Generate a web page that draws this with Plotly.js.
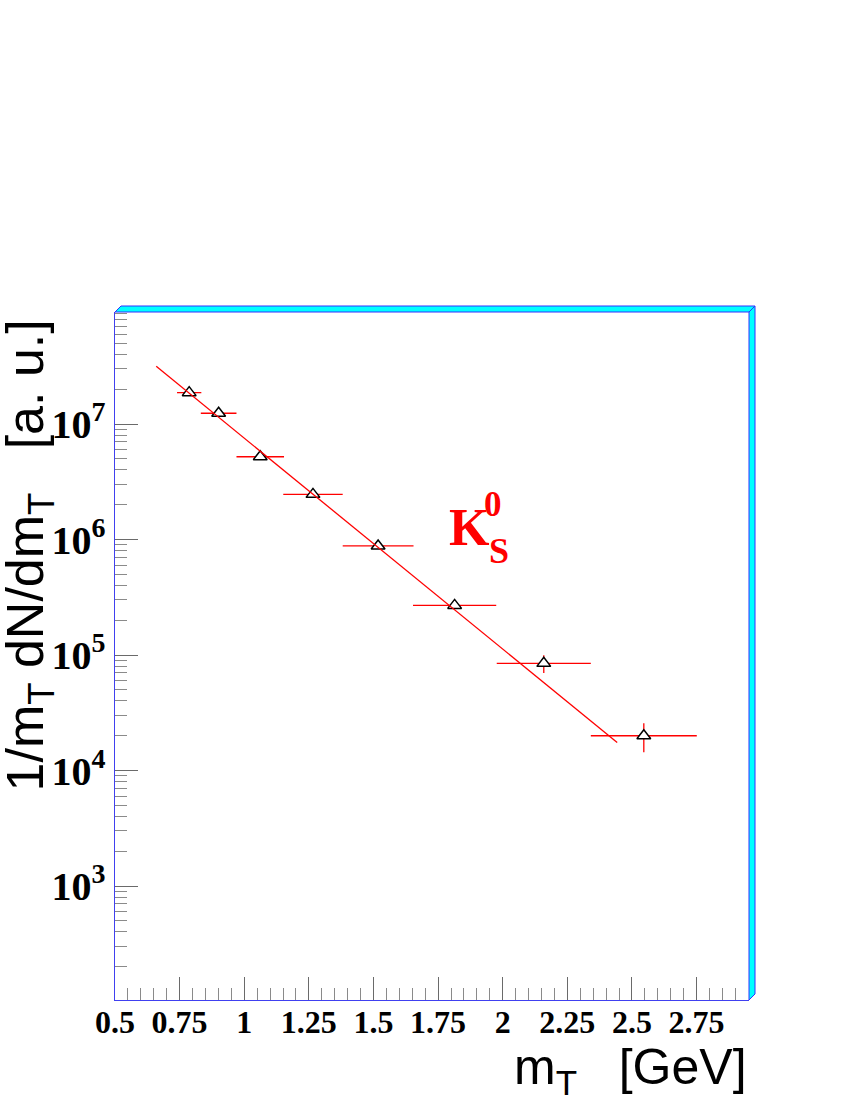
<!DOCTYPE html>
<html>
<head>
<meta charset="utf-8">
<script src="https://cdn.plot.ly/plotly-3.0.1.min.js"></script>
<style>html,body{margin:0;padding:0;background:#fff;}#chart{width:850px;height:1100px;}</style>
</head>
<body>
<div id="chart"></div>
<script>
// Data (K0s transverse-mass spectrum)
var mt      = [0.787, 0.901, 1.062, 1.266, 1.518, 1.814, 2.159, 2.546];
var yields  = [1.87e7, 1.24e7, 5.21e6, 2.46e6, 8.8e5, 2.69e5, 8.47e4, 2.0e4];
var mtErr   = [0.047, 0.069, 0.092, 0.115, 0.137, 0.161, 0.182, 0.205];
var yieldErr= [4.0e5, 2.5e5, 1.0e5, 5.0e4, 2.0e4, 1.5e4, 1.5e4, 5.6e3];
// exponential fit, endpoints
var fitX = [0.6595, 2.443];
var fitY = [3.16e7, 1.75e4];

var xTickVals = [0.5, 0.75, 1, 1.25, 1.5, 1.75, 2, 2.25, 2.5, 2.75];
var xTickText = ['0.5', '0.75', '1', '1.25', '1.5', '1.75', '2', '2.25', '2.5', '2.75'];

var red = '#ff0000';
var axisBlue = '#4040f0';
var tickFont = {family: 'Liberation Serif, Times New Roman, serif', size: 32, weight: 'bold', color: '#000'};
var titleFont = {family: 'Liberation Sans, Arial, sans-serif', size: 50, color: '#000'};
var yTitleFont = {family: 'Liberation Sans, Arial, sans-serif', size: 52, color: '#000'};

var data = [
  {
    x: mt, y: yields, type: 'scatter', mode: 'markers',
    marker: {symbol: 'triangle-up', size: 12, color: '#ffffff', line: {color: '#000', width: 1.5}},
    error_x: {type: 'data', array: mtErr, color: red, thickness: 1.3, width: 0},
    error_y: {type: 'data', array: yieldErr, color: red, thickness: 1.3, width: 0},
    showlegend: false, hoverinfo: 'skip'
  },
  {
    x: fitX, y: fitY, type: 'scatter', mode: 'lines',
    line: {color: red, width: 1.3},
    showlegend: false, hoverinfo: 'skip'
  }
];

var dx = 6 / 634, dy = 6 / 688;
var layout = {
  width: 850, height: 1100,
  margin: {l: 115, r: 101, t: 312, b: 100},
  paper_bgcolor: '#fff', plot_bgcolor: '#fff',
  showlegend: false,
  xaxis: {
    range: [0.5, 2.953], tickmode: 'array', tickvals: xTickVals, ticktext: xTickText,
    ticks: 'inside', ticklen: 23, tickcolor: '#6a6a6a', tickwidth: 1,
    minor: {dtick: 0.05, tick0: 0.5, ticks: 'inside', ticklen: 12, tickcolor: '#8a8a8a', tickwidth: 1, showgrid: false},
    showline: true, linecolor: axisBlue, linewidth: 1,
    showgrid: false, zeroline: false, tickfont: tickFont, ticklabelstandoff: -6
  },
  yaxis: {
    type: 'log', range: [2.013, 7.97], dtick: 1, exponentformat: 'power',
    ticks: 'inside', ticklen: 23, tickcolor: '#6a6a6a', tickwidth: 1,
    minor: {dtick: 'D1', ticks: 'inside', ticklen: 12, tickcolor: '#8a8a8a', tickwidth: 1, showgrid: false},
    showline: true, linecolor: axisBlue, linewidth: 1,
    showgrid: false, zeroline: false, tickfont: tickFont, ticklabelstandoff: 2
  },
  shapes: [
    {type: 'path', xref: 'paper', yref: 'paper',
     path: 'M 0 1 L ' + dx + ' ' + (1 + dy) + ' L ' + (1 + dx) + ' ' + (1 + dy) + ' L 1 1 Z',
     fillcolor: '#00ffff', line: {color: '#3030ff', width: 1}},
    {type: 'path', xref: 'paper', yref: 'paper',
     path: 'M 1 1 L ' + (1 + dx) + ' ' + (1 + dy) + ' L ' + (1 + dx) + ' ' + dy + ' L 1 0 Z',
     fillcolor: '#00ffff', line: {color: '#3030ff', width: 1}}
  ],
  annotations: [
    {xref: 'paper', yref: 'paper', x: 0.5241, y: 0.7315, xanchor: 'left', yanchor: 'top', showarrow: false,
     text: 'K', font: {family: 'Liberation Serif, Times New Roman, serif', size: 52, weight: 'bold', color: red}},
    {xref: 'paper', yref: 'paper', x: 0.5793, y: 0.7515, xanchor: 'left', yanchor: 'top', showarrow: false,
     text: '0', font: {family: 'Liberation Serif, Times New Roman, serif', size: 35, weight: 'bold', color: red}},
    {xref: 'paper', yref: 'paper', x: 0.5872, y: 0.6847, xanchor: 'left', yanchor: 'top', showarrow: false,
     text: 'S', font: {family: 'Liberation Serif, Times New Roman, serif', size: 36, weight: 'bold', color: red}},
    {xref: 'paper', yref: 'paper', x: 1.0, y: -0.0534, xanchor: 'right', yanchor: 'top', showarrow: false,
     text: 'm<sub>T</sub>\u00a0\u00a0\u00a0[GeV]', font: titleFont},
    {xref: 'paper', yref: 'paper', x: -0.1905, y: 0.6465, xanchor: 'left', yanchor: 'middle', showarrow: false,
     textangle: -90,
     text: '1/m<sub>T</sub> dN/dm<sub>T</sub>\u00a0\u00a0\u00a0[a. u.]', font: yTitleFont}
  ]
};

Plotly.newPlot('chart', data, layout, {displayModeBar: false, staticPlot: true});
</script>
</body>
</html>
